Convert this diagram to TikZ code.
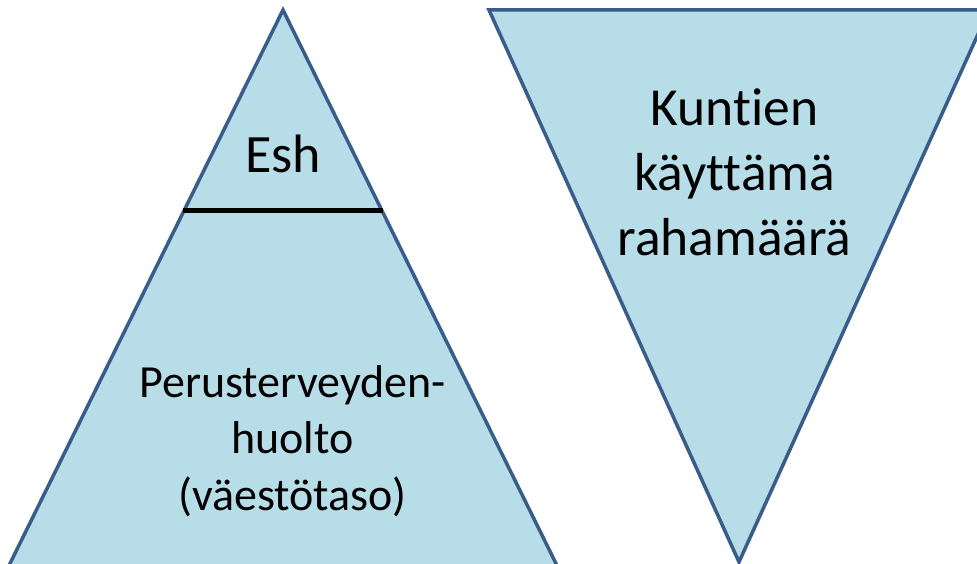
\documentclass[tikz,border=0pt]{standalone}
\usepackage{fontspec}
\setmainfont{Carlito}[Ligatures={NoCommon}]
\usepackage{tikz}

\definecolor{triFill}{HTML}{B7DDE8}
\definecolor{triEdge}{HTML}{385D8A}

\begin{document}
\begin{tikzpicture}
  [x=1pt, y=-1pt,
   tri/.style={fill=triFill, draw=triEdge, line width=3.5pt},
   cut line/.style={draw=black, line width=5pt},
   big text/.style={font=\fontsize{54}{64}\selectfont, inner sep=0pt, anchor=base},
   mid text/.style={font=\fontsize{53.5}{65}\selectfont, align=center, inner sep=0pt, anchor=base},
   low text/.style={font=\fontsize{46}{56.5}\selectfont, align=center, inner sep=0pt, anchor=base}]
  \clip (0,0) rectangle (977,564);
  % pyramid, left
  \draw[tri] (283,10) -- (574,600) -- (-8,600) -- cycle;
  \coordinate (cutL) at (183,211);
  \coordinate (cutR) at (383,211);
  \draw[cut line] (cutL) -- (cutR);
  \node[big text] (esh) at (283,173) {Esh};
  \node[low text] (perus) at (292.5,510) {Perusterveyden-\\huolto\\(väestötaso)};
  % inverted one, right
  \draw[tri] (489,10) -- (989,10) -- (739,562) -- cycle;
  \node[mid text] (raha) at (734.5,255) {Kuntien\\käyttämä\\rahamäärä};
\end{tikzpicture}
\end{document}
